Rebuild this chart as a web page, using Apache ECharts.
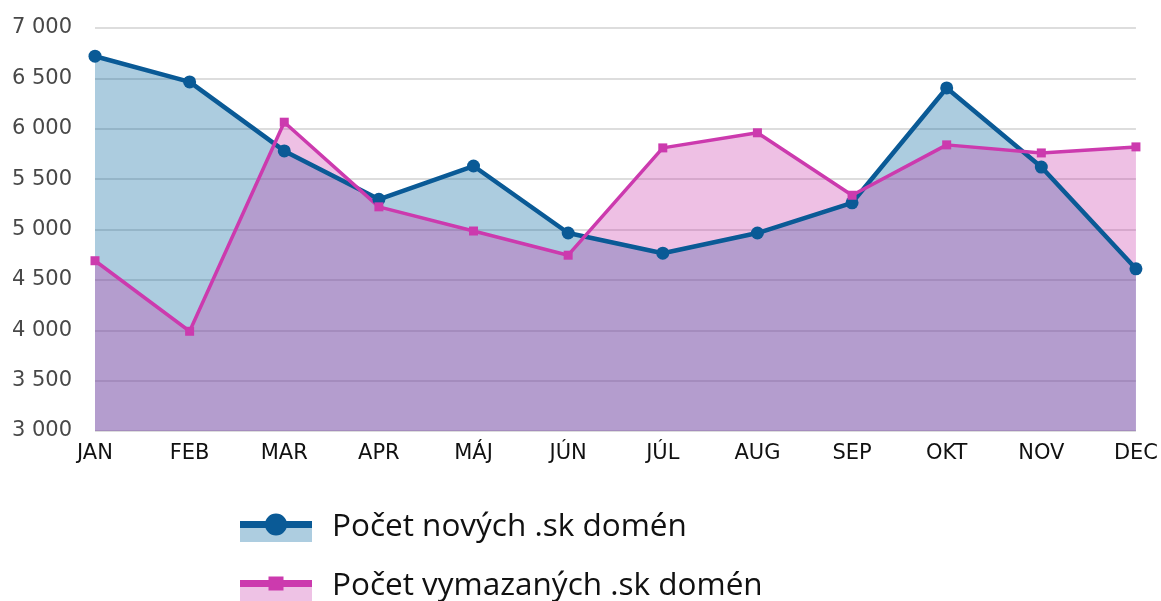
<!DOCTYPE html>
<html>
<head>
<meta charset="utf-8">
<script src="https://cdn.jsdelivr.net/npm/echarts@6/dist/echarts.min.js"></script>
<style>
  html, body { margin: 0; padding: 0; background: #fff; }
  #chart { width: 1161px; height: 601px; }
</style>
</head>
<body>
<div id="chart"></div>
<script>
// mesiace
const months = ['JAN', 'FEB', 'MAR', 'APR', 'MÁJ', 'JÚN', 'JÚL', 'AUG', 'SEP', 'OKT', 'NOV', 'DEC']
// počty domén
const newDomains = [6720, 6465, 5780, 5300, 5630, 4965, 4765, 4965, 5265, 6405, 5620, 4610]
const deletedDomains = [4690, 3990, 6065, 5225, 4985, 4745, 5810, 5960, 5340, 5840, 5760, 5820]
const seriesNames = ['Počet nových .sk domén', 'Počet vymazaných .sk domén']

const blue = '#0a5a96'
const pink = '#cc3aae'

// ikonky legendy: pás výplne, čiara s bodom (spoločný rámček 87x30)
const bandIcon = 'path://M0,0 M87,0 M0,16 L72,16 L72,30 L0,30 Z'
const blueLineIcon = 'path://M0,0 M87,30 M0,9 L72,9 L72,16 L0,16 Z M25,12.5 A11,11 0 1,1 47,12.5 A11,11 0 1,1 25,12.5 Z'
const pinkLineIcon = 'path://M0,0 M87,30 M0,9 L72,9 L72,16 L0,16 Z M28.5,5.5 L43.5,5.5 L43.5,19.5 L28.5,19.5 Z'

const chart = echarts.init(document.getElementById('chart'))

const legendBase = {
  orient: 'vertical',
  left: 235,
  top: 506,
  height: 160,
  itemWidth: 87,
  itemHeight: 30,
  itemGap: 27,
  selectedMode: false,
  itemStyle: { borderWidth: 0 },
  textStyle: { fontFamily: 'Open Sans', fontSize: 31.5, color: '#111' }
}

chart.setOption({
  animation: false,
  grid: { left: 95, right: 22, top: 28, bottom: 170 },
  legend: [
    {
      ...legendBase,
      data: [
        { name: seriesNames[0], icon: bandIcon, itemStyle: { color: '#adcde0' } },
        { name: seriesNames[1], icon: bandIcon, itemStyle: { color: '#eec2e5' } }
      ]
    },
    {
      ...legendBase,
      textStyle: { ...legendBase.textStyle, color: 'rgba(0,0,0,0)' },
      data: [
        { name: seriesNames[0], icon: blueLineIcon, itemStyle: { color: blue } },
        { name: seriesNames[1], icon: pinkLineIcon, itemStyle: { color: pink } }
      ]
    }
  ],
  xAxis: {
    type: 'category',
    data: months,
    boundaryGap: false,
    axisLine: { show: false },
    axisTick: { show: false },
    axisLabel: { margin: 12, color: '#111', fontFamily: 'DejaVu Sans', fontSize: 21 }
  },
  yAxis: {
    type: 'value',
    min: 3000,
    max: 7000,
    interval: 500,
    axisLabel: {
      margin: 23,
      color: '#484848',
      fontFamily: 'DejaVu Sans',
      fontSize: 21,
      formatter: (v) => String(v).replace(/\B(?=(\d{3})+(?!\d))/g, ' ')
    },
    splitLine: { lineStyle: { color: '#d2d2d2', width: 1.5 } }
  },
  series: [
    {
      name: seriesNames[0],
      type: 'line',
      data: newDomains,
      symbol: 'circle',
      symbolSize: 13,
      lineStyle: { color: blue, width: 4.5 },
      itemStyle: { color: blue },
      areaStyle: { color: 'rgba(3,100,158,0.33)', opacity: 1 }
    },
    {
      name: seriesNames[1],
      type: 'line',
      data: deletedDomains,
      symbol: 'rect',
      symbolSize: 9,
      lineStyle: { color: pink, width: 3.5 },
      itemStyle: { color: pink },
      areaStyle: { color: 'rgba(198,45,165,0.3)', opacity: 1 }
    }
  ]
})
</script>
</body>
</html>
